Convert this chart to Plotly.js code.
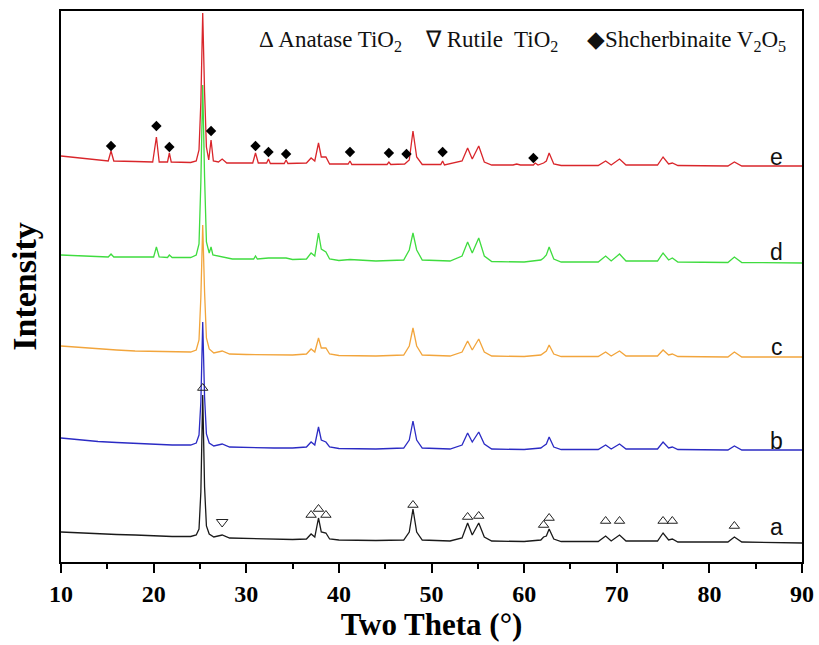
<!DOCTYPE html>
<html>
<head>
<meta charset="utf-8">
<script src="https://cdn.plot.ly/plotly-3.0.1.min.js"></script>
<style>html,body{margin:0;padding:0;background:#fff;}#chart{width:819px;height:645px;}</style>
</head>
<body>
<div id="chart"></div>
<script>
// ---- data (two theta in degrees, stacked intensity in arbitrary units) ----
const xA = [10,12,14,16,18,20,22,24,24.6,24.9,25.1,25.3,25.5,25.7,26.0,26.5,27.4,28.2,30,33,35,36.5,37.0,37.4,37.8,38.1,38.6,39.0,40,44,47.0,47.6,48.0,48.4,49.0,52,53.3,53.9,54.4,55.1,55.7,56.5,60,61.8,62.1,62.4,62.7,63.2,64,68.0,68.8,69.4,70.3,71.0,74.4,75.0,75.6,76.0,76.6,82.0,82.7,83.5,90];
const yA = [30,29,28,27.5,27,26,25.5,25.5,27,33,70,167,75,36,28,25,27,24,23.5,23,22.5,23,28,25,44,30,29,23,22,21.5,22,30,53,30,22,21,24,39,27,39,25,21,20.5,22,25,26,33,23,20.5,20.5,26,21,27,21,21,29,22,23,20,20,25,20,19];

const xB = xA;
const yB = [124,122,120.5,119.5,118.5,118,117,117,119,127,160,240,165,128,119,116,118,115,114.5,114,114,115,120,117,135,122,120,115,113.5,113,114,122,141,122,114,113,117,129,120,130,118,113,112.5,114,116,118,125,115,112.5,112.5,117,113,118,113,113,120,114,115,112.5,112,116,112,112];

const xC = xA;
const yC = [216,214.5,213,212,211,210.5,210,210,212,222,265,337,270,224,213,209,211,208,207.5,207,207,208,213,210,224,214,214,208,206.5,206,207,216,234,216,207,206,210,221,212,223,210,206,205.5,207,209,211,217,208,205.5,205.5,210,206,211,206,206,212,207,208,205.5,205,210,205,205];

const xD = [10,12,14,15.1,15.4,15.7,18,20.0,20.3,20.6,21.5,21.7,22.0,24,24.6,24.9,25.1,25.3,25.5,25.7,26.0,26.2,26.4,27.4,28.5,30.8,31.0,31.2,32.4,34.3,35,36.5,37.0,37.4,37.8,38.1,38.6,39.0,40,41.2,44,47.0,47.6,48.0,48.4,49.0,51.2,52,53.3,53.9,54.4,55.1,55.7,56.5,60,61.8,62.1,62.4,62.7,63.2,64,68.0,68.8,69.4,70.3,71.0,74.4,75.0,75.6,76.0,76.6,82.0,82.7,83.5,90];
const yD = [307,306,305.5,305,308,305,305,305,315,305,304.5,307,304.5,304.5,307,318,380,477,385,320,309,315,307,305,303,303,306,303,304,304,302.5,303,309,306,329,313,310,303,301.5,302.5,301,302,312,329,312,302,301.5,301,306,320,309,324,306,300.5,300,302,304,307,315,303,300,300,306,301,308,301,301,309,302,304,300,299.5,305,299.5,299];

const xE = [10,12,14,15.1,15.4,15.7,18,19.9,20.3,20.6,21.5,21.7,21.9,23,24,24.6,24.9,25.1,25.3,25.5,25.7,25.95,26.2,26.45,27.0,27.4,27.9,30.7,31.0,31.3,32.2,32.4,32.6,34.1,34.3,34.5,36.5,37.0,37.4,37.8,38.1,38.6,39.0,41.0,41.2,41.4,45.2,45.4,45.6,47.1,47.3,47.6,48.0,48.4,49.0,51.0,51.2,51.4,53.3,53.9,54.4,55.1,55.7,56.5,58.8,59.2,59.6,61.0,61.2,61.5,62.1,62.4,62.7,63.2,64,68.0,68.8,69.4,70.3,71.0,74.4,75.0,75.6,76.0,76.6,82.0,82.7,83.5,90];
const yE = [406,404,402,401,411,401,400.5,400,425,400,400,409,400,399.5,399.5,401,412,460,549,470,415,402,422,401,400,403,399,399,409,399,399,403,398.5,398.5,402,398.5,399,404,401,419,405,405,398,398,401,397.5,397.5,400,397.5,398,400,402,431,405,397.5,397.5,401,397,401,414,403,416,400,397,397,398,397,397,399,397,399,401,409,398,396.5,396.5,401,397,403,397,397,405,398,399,396.5,396,400,396,396];

// phase markers
const anataseX = [25.3,37.0,37.8,38.6,48.0,53.9,55.1,62.1,62.7,68.8,70.3,75.0,76.0,82.7];
const anataseY = [174,47,53,47,57,45,46,37,44,41,41,41,41,36];
const rutileX = [27.4];
const rutileY = [40];
const v2o5X = [15.4,20.3,21.7,26.2,31.0,32.4,34.3,41.2,45.4,47.3,51.2,61.0];
const v2o5Y = [416,436,415,431,416,410,408,410,409,408,410,404];

// sample labels
const sampleNames = ['a','b','c','d','e'];
const sampleLabelY = [35,121,215,310,405];
const sampleColors = ['#1a1a1a','#2b2bc4','#f2a53c','#3fdc3f','#d9262b'];

// legend texts
const legendTexts = ['Δ Anatase TiO<sub>2</sub>','∇ Rutile  TiO<sub>2</sub>','◆Shcherbinaite V<sub>2</sub>O<sub>5</sub>'];
const legendX = [31.2, 49.1, 66.6];

const xs = [xA,xB,xC,xD,xE];
const ys = [yA,yB,yC,yD,yE];

const traces = [];
for (let i = 0; i < 5; i++) {
  traces.push({x: xs[i], y: ys[i], mode: 'lines', type: 'scatter', name: sampleNames[i],
    line: {color: sampleColors[i], width: 1.3}, hoverinfo: 'skip'});
}
traces.push({x: anataseX, y: anataseY, mode: 'markers', type: 'scatter',
  marker: {symbol: 'triangle-up-open', size: 9, color: '#222', line: {width: 1, color: '#222'}}});
traces.push({x: rutileX, y: rutileY, mode: 'markers', type: 'scatter',
  marker: {symbol: 'triangle-down-open', size: 10, color: '#222', line: {width: 1, color: '#222'}}});
traces.push({x: v2o5X, y: v2o5Y, mode: 'markers', type: 'scatter',
  marker: {symbol: 'diamond', size: 8, color: '#000'}});

const annotations = [];
for (let i = 0; i < 5; i++) {
  annotations.push({x: 87.3, y: sampleLabelY[i], xref: 'x', yref: 'y', text: sampleNames[i],
    showarrow: false, xanchor: 'center', yanchor: 'middle',
    font: {family: 'Liberation Sans, Arial, sans-serif', size: 23, color: '#111'}});
}
for (let i = 0; i < 3; i++) {
  annotations.push({x: legendX[i], y: 521, xref: 'x', yref: 'y', text: legendTexts[i],
    showarrow: false, xanchor: 'left', yanchor: 'middle',
    font: {family: 'Liberation Serif, Times New Roman, serif', size: 23, color: '#111'}});
}

const layout = {
  width: 819, height: 645,
  margin: {l: 61, r: 17, t: 11, b: 83},
  paper_bgcolor: '#fff', plot_bgcolor: '#fff',
  showlegend: false,
  xaxis: {
    range: [10, 90], dtick: 10, tick0: 10,
    ticks: 'outside', ticklen: 9, tickwidth: 2, tickcolor: '#000',
    minor: {dtick: 5, ticks: 'outside', ticklen: 5, tickwidth: 2, tickcolor: '#000'},
    showline: true, linewidth: 2, linecolor: '#000', mirror: true,
    showgrid: false, zeroline: false,
    tickfont: {family: 'Liberation Serif, Times New Roman, serif', size: 24, color: '#000', weight: 'bold'},
    title: {text: 'Two Theta (°)', standoff: 5,
      font: {family: 'Liberation Serif, Times New Roman, serif', size: 31, color: '#000', weight: 'bold'}}
  },
  yaxis: {
    range: [0, 551], showticklabels: false, ticks: '',
    showline: true, linewidth: 2, linecolor: '#000', mirror: true,
    showgrid: false, zeroline: false,
    title: {text: 'Intensity', standoff: 12,
      font: {family: 'Liberation Serif, Times New Roman, serif', size: 34, color: '#000', weight: 'bold'}}
  },
  annotations: annotations
};

Plotly.newPlot('chart', traces, layout, {displayModeBar: false, staticPlot: true});
</script>
</body>
</html>
